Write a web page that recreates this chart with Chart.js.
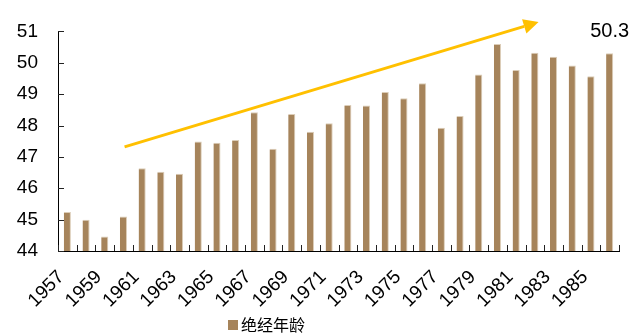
<!DOCTYPE html>
<html>
<head>
<meta charset="utf-8">
<script src="https://cdn.jsdelivr.net/npm/chart.js@4.4.0/dist/chart.umd.min.js"></script>
<style>
  html, body { margin: 0; padding: 0; background: #fff; }
  #wrap { position: relative; width: 644px; height: 334px; }
</style>
</head>
<body>
<div id="wrap"><canvas id="chartIdade" width="644" height="334"></canvas></div>
<script>
// --- DADOS ---
const anos = [
  "1957", "1958", "1959", "1960", "1961", "1962", "1963", "1964", "1965", "1966",
  "1967", "1968", "1969", "1970", "1971", "1972", "1973", "1974", "1975", "1976",
  "1977", "1978", "1979", "1980", "1981", "1982", "1983", "1984", "1985", "1986"
];
const idadeMenopausa = [
  45.24, 45.0, 44.46, 45.1, 46.64, 46.53, 46.46, 47.49, 47.45, 47.54,
  48.42, 47.26, 48.37, 47.8, 48.07, 48.65, 48.64, 49.07, 48.87, 49.35,
  47.93, 48.3, 49.63, 50.6, 49.77, 50.32, 50.19, 49.91, 49.57, 50.3
];
const yTicks = [44, 45, 46, 47, 48, 49, 50, 51];
const serieNome = "绝经年龄";
const rotuloFinal = "50.3";

// seta de tendência em unidades do gráfico: [índice da categoria, valor]
const setaInicio = [3.06, 47.32];
const setaFim = [25.2, 51.3];

const corBarra = "#a6845b";
const corSeta = "#ffc000";

// --- MARCAS INTERNAS DOS EIXOS ---
const marcasInternas = {
  id: "marcasInternas",
  afterDatasetsDraw(chart) {
    const { ctx, chartArea, scales: { x, y } } = chart;
    ctx.save();
    ctx.strokeStyle = "#222";
    ctx.lineWidth = 1;
    ctx.beginPath();
    yTicks.forEach((v) => {
      const py = Math.round(y.getPixelForValue(v)) + 0.5;
      ctx.moveTo(chartArea.left, py);
      ctx.lineTo(chartArea.left + 6, py);
    });
    for (let i = 0; i <= anos.length; i++) {
      const px = Math.round(x.getPixelForValue(i - 0.5)) + 0.5;
      ctx.moveTo(px, chartArea.bottom);
      ctx.lineTo(px, chartArea.bottom - 6);
    }
    ctx.stroke();
    ctx.restore();
  }
};

// --- SETA, RÓTULO E LEGENDA ---
const extras = {
  id: "extras",
  afterDraw(chart) {
    const { ctx, scales: { x, y } } = chart;
    ctx.save();

    // seta
    const x0 = x.getPixelForValue(setaInicio[0]);
    const y0 = y.getPixelForValue(setaInicio[1]);
    const x1 = x.getPixelForValue(setaFim[0]);
    const y1 = y.getPixelForValue(setaFim[1]);
    const ang = Math.atan2(y1 - y0, x1 - x0);
    const cab = 15, larg = 7.5;
    const bx = x1 - Math.cos(ang) * cab;
    const by = y1 - Math.sin(ang) * cab;
    ctx.strokeStyle = corSeta;
    ctx.fillStyle = corSeta;
    ctx.lineWidth = 3;
    ctx.beginPath();
    ctx.moveTo(x0, y0);
    ctx.lineTo(bx, by);
    ctx.stroke();
    ctx.beginPath();
    ctx.moveTo(x1, y1);
    ctx.lineTo(bx + Math.sin(ang) * larg, by - Math.cos(ang) * larg);
    ctx.lineTo(bx - Math.sin(ang) * larg, by + Math.cos(ang) * larg);
    ctx.closePath();
    ctx.fill();

    // rótulo do último valor
    const ultimo = anos.length - 1;
    ctx.fillStyle = "#000";
    ctx.font = "20px 'Liberation Sans', Arial, sans-serif";
    ctx.textAlign = "center";
    ctx.textBaseline = "middle";
    ctx.fillText(rotuloFinal, x.getPixelForValue(ultimo), y.getPixelForValue(51) + 0.5);

    // legenda
    const lx = 228, ly = 325;
    ctx.fillStyle = corBarra;
    ctx.fillRect(lx, ly - 5, 10, 10);
    ctx.fillStyle = "#000";
    ctx.font = "16px 'Noto Sans CJK SC', sans-serif";
    ctx.textAlign = "left";
    ctx.fillText(serieNome, lx + 13, ly);

    ctx.restore();
  }
};

const ctxChart = document.getElementById("chartIdade");

new Chart(ctxChart, {
  type: "bar",
  data: {
    labels: anos,
    datasets: [
      {
        label: serieNome,
        data: idadeMenopausa,
        backgroundColor: corBarra,
        borderColor: "#dccdb8",
        borderWidth: { top: 1, right: 1, left: 0, bottom: 0 },
        borderSkipped: false,
        barPercentage: 0.38,
        categoryPercentage: 1.0,
      },
    ],
  },
  options: {
    responsive: false,
    animation: false,
    devicePixelRatio: 1,
    layout: { padding: { top: 21, right: 25, left: 0, bottom: 0 } },
    plugins: {
      legend: { display: false },
      tooltip: { enabled: false },
    },
    scales: {
      x: {
        grid: { display: false, drawTicks: false },
        border: { display: true, color: "#000", width: 1 },
        ticks: {
          autoSkip: false,
          maxRotation: 45,
          minRotation: 45,
          padding: 15,
          labelOffset: -6,
          color: "#000",
          font: { family: "'Liberation Sans', Arial, sans-serif", size: 19 },
          callback: (v, i) => (i % 2 === 0 ? anos[i] : ""),
        },
        afterFit: (s) => { s.height = 83; },
      },
      y: {
        min: 44,
        max: 51,
        grid: { display: false, drawTicks: false },
        border: { display: true, color: "#000", width: 1 },
        ticks: {
          stepSize: 1,
          padding: 20,
          color: "#000",
          font: { family: "'Liberation Sans', Arial, sans-serif", size: 19 },
        },
        afterFit: (s) => { s.width = 58; },
      },
    },
  },
  plugins: [marcasInternas, extras],
});
</script>
</body>
</html>
